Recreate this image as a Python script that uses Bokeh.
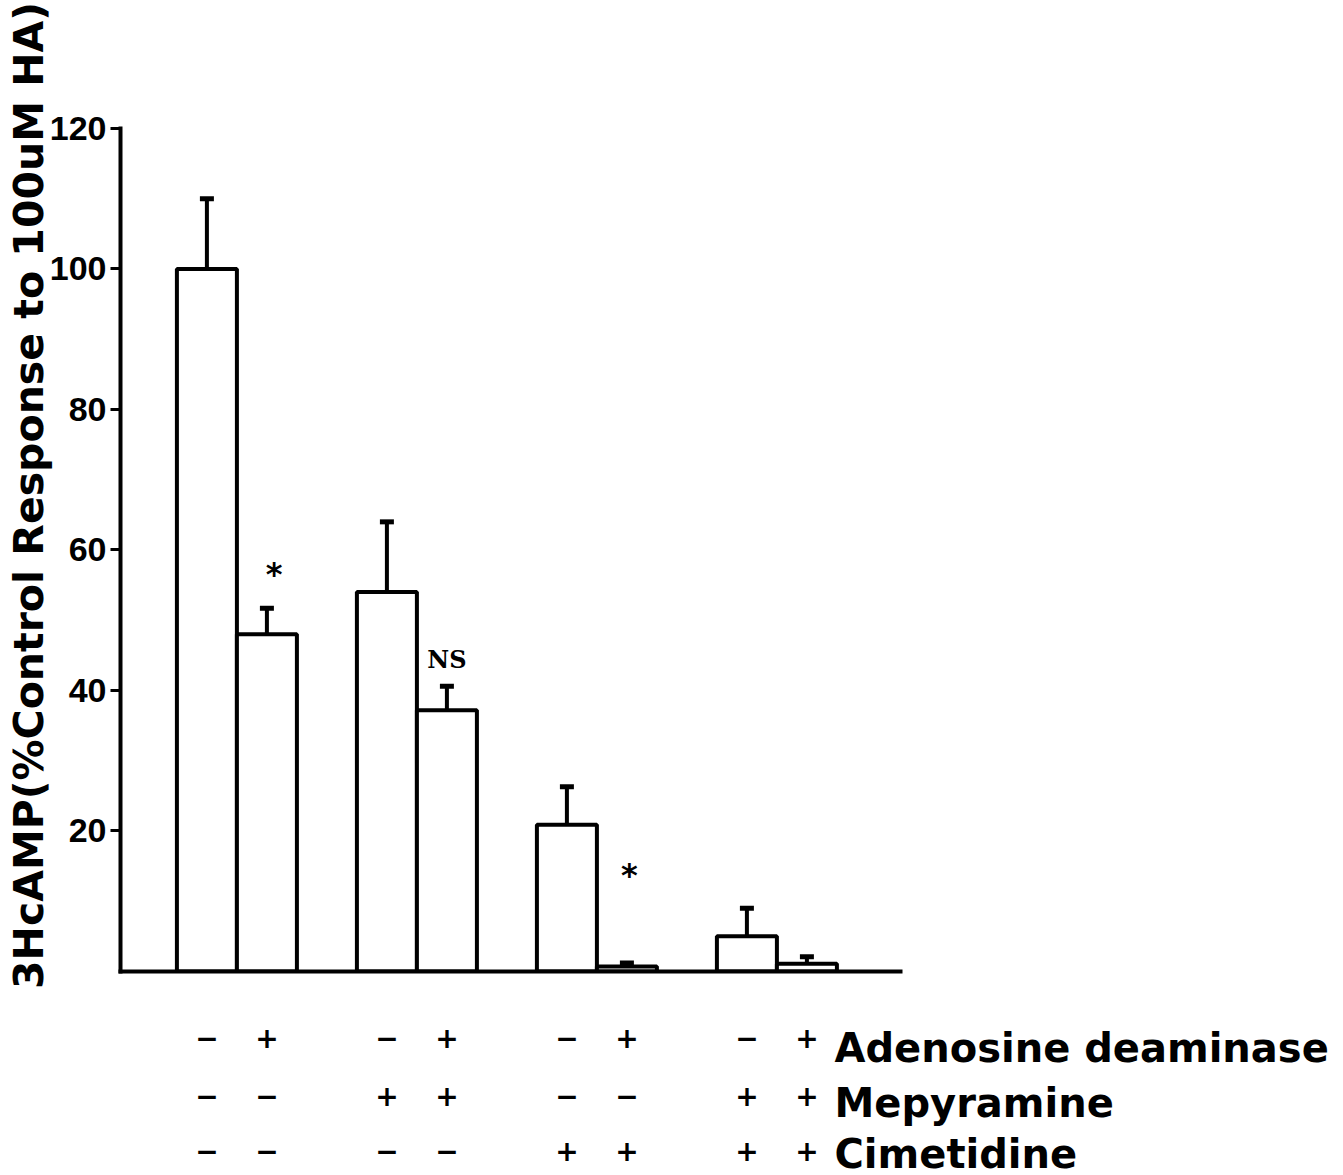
from bokeh.plotting import figure
from bokeh.layouts import column
from bokeh.models import Range1d, FixedTicker, ColumnDataSource, Whisker, TeeHead
from bokeh.core.properties import value
from bokeh.embed import file_html
from bokeh.resources import INLINE

# ---------------- data ----------------
row_names = ["Adenosine deaminase", "Mepyramine", "Cimetidine"]
adenosine_deaminase = ["\u2212", "+", "\u2212", "+", "\u2212", "+", "\u2212", "+"]
mepyramine = ["\u2212", "\u2212", "+", "+", "\u2212", "\u2212", "+", "+"]
cimetidine = ["\u2212", "\u2212", "\u2212", "\u2212", "+", "+", "+", "+"]

means = [100, 48, 54, 37.2, 20.9, 0.7, 5.0, 1.1]
sem = [10, 3.7, 10, 3.4, 5.4, 0.5, 4.0, 1.0]

annot_text = ["*", "NS", "*"]
annot_bar = [1, 3, 5]
annot_y = [56.6, 44.4, 13.8]

y_ticks = [20, 40, 60, 80, 100, 120]
y_label = "3HcAMP(%Control Response to 100uM HA)"

# ---------------- layout helpers ----------------
group = [i // 2 for i in range(len(means))]
within = [i % 2 for i in range(len(means))]
xs = [1.44 + 3.0 * g + j for g, j in zip(group, within)]
upper = [m + s for m, s in zip(means, sem)]

src = ColumnDataSource(dict(x=xs, top=means, upper=upper))

# ---------------- main chart ----------------
p = figure(frame_width=780, frame_height=952,
           x_range=Range1d(0, 13), y_range=Range1d(0, 135.5),
           output_backend="svg", toolbar_location=None,
           min_border_left=120, min_border_right=435,
           min_border_top=19, min_border_bottom=20)

p.grid.visible = False
p.outline_line_color = None
p.background_fill_color = "white"

p.vbar(x="x", top="top", width=1.0, source=src, fill_color="white",
       line_color="black", line_width=4)

p.add_layout(Whisker(base="x", lower="top", upper="upper", source=src,
                     line_color="black", line_width=4,
                     upper_head=TeeHead(size=14, line_width=5, line_color="black"),
                     lower_head=None))

ya = p.yaxis[0]
ya.ticker = FixedTicker(ticks=y_ticks)
ya.bounds = (0, 120)
ya.axis_line_width = 4
ya.axis_line_cap = "square"
ya.major_tick_out = 10
ya.major_tick_in = 0
ya.major_tick_line_width = 3
ya.minor_tick_line_color = None
ya.major_label_text_font = "Liberation Sans"
ya.major_label_text_font_style = "bold"
ya.major_label_text_font_size = "34px"
ya.major_label_text_color = "black"
ya.major_label_standoff = 4
ya.axis_label = y_label
ya.axis_label_text_font = "DejaVu Sans"
ya.axis_label_text_font_style = "bold"
ya.axis_label_text_font_size = "41px"
ya.axis_label_text_color = "black"
ya.axis_label_standoff = -6

xa = p.xaxis[0]
xa.ticker = FixedTicker(ticks=[])
xa.axis_line_width = 4
xa.axis_line_cap = "square"
xa.major_tick_out = 0
xa.major_tick_in = 0
xa.major_tick_line_color = None
xa.minor_tick_line_color = None
xa.major_label_standoff = 0
xa.major_label_text_font_size = "0px"

annot_dx = [0.12, 0.0, 0.04]
asrc = ColumnDataSource(dict(
    x=[xs[b] + d for b, d in zip(annot_bar, annot_dx)],
    y=annot_y, t=annot_text,
    f=["DejaVu Sans" if t == "*" else "DejaVu Serif" for t in annot_text],
    s=["32px" if t == "*" else "24px" for t in annot_text]))
p.text(x="x", y="y", text="t", source=asrc, text_font="f",
       text_font_size="s", text_font_style="bold", text_align="center",
       text_baseline="middle", text_color="black")

# ---------------- treatment table below ----------------
q = figure(frame_width=1215, frame_height=184,
           x_range=Range1d(0, 20.25), y_range=Range1d(184, 0),
           output_backend="svg", toolbar_location=None,
           x_axis_location=None, y_axis_location=None,
           min_border_left=120, min_border_right=0,
           min_border_top=0, min_border_bottom=0)
q.grid.visible = False
q.outline_line_color = None

sym_y = [46, 104, 159]
rows = [adenosine_deaminase, mepyramine, cimetidine]
rx, ry, rt = [], [], []
for yy, row in zip(sym_y, rows):
    for x0, sym in zip(xs, row):
        rx.append(x0)
        ry.append(yy)
        rt.append(sym)
rsrc = ColumnDataSource(dict(x=rx, y=ry, t=rt))
q.text(x="x", y="y", text="t", source=rsrc, text_font=value("DejaVu Sans"),
       text_font_style="bold", text_font_size="28px", text_align="center",
       text_baseline="middle", text_color="black")

name_y = [56, 111, 162]
nsrc = ColumnDataSource(dict(x=[xs[-1] + 0.46] * 3, y=name_y, t=row_names))
q.text(x="x", y="y", text="t", source=nsrc, text_font=value("DejaVu Sans"),
       text_font_style="bold", text_font_size="40px", text_align="left",
       text_baseline="middle", text_color="black")

layout = column(p, q, spacing=0)
open("out.html", "w").write(file_html(layout, INLINE))
